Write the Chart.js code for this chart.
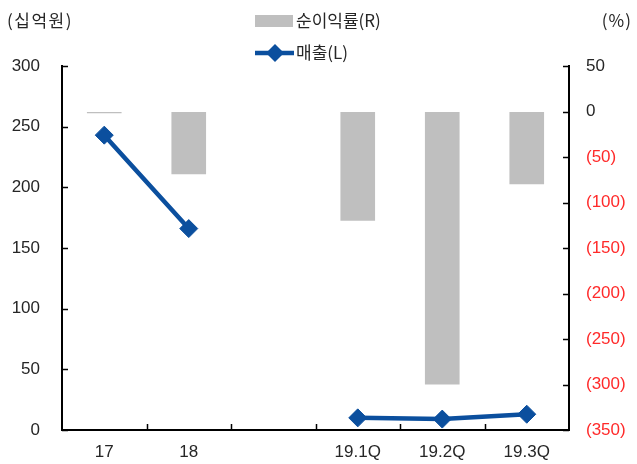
<!DOCTYPE html>
<html>
<head>
<meta charset="utf-8">
<script src="https://cdn.jsdelivr.net/npm/chart.js@4/dist/chart.umd.min.js"></script>
<style>
  html, body { margin: 0; padding: 0; background: #ffffff; }
  #wrap { width: 637px; height: 464px; }
</style>
</head>
<body>
<div id="wrap"><canvas id="c" width="637" height="464"></canvas></div>
<script>
// Periods on the x axis (blank slot separates annual and quarterly figures)
const categories = ['17', '18', '', '19.1Q', '19.2Q', '19.3Q'];
// 매출 (십억원), left axis
const sales = [243, 166, null, 10, 9, 13];
// 순이익률 (%), right axis
const netMargin = [-2, -69, null, -120, -300, -80];
// Axis tick settings
const leftTicks = { min: 0, max: 300, step: 50 };
const rightTicks = { min: -350, max: 50, step: 50 };

const BLUE = '#0b4f9e';
const GREY = '#bfbfbf';
const TEXT = '#262626';
const RED = '#ff2a2a';
const NUM_FONT = { family: "'Liberation Sans', Arial, sans-serif", size: 17 };
const KR_FONT = "'Noto Sans CJK KR', 'Liberation Sans', sans-serif";

// Short tick marks drawn on the inner side of each axis
const innerTicks = {
  id: 'innerTicks',
  afterDatasetsDraw(chart) {
    const { ctx, chartArea, scales } = chart;
    ctx.save();
    ctx.strokeStyle = '#000';
    ctx.lineWidth = 1.5;
    ctx.beginPath();
    scales.y.ticks.forEach(t => {
      const py = Math.round(scales.y.getPixelForValue(t.value)) + 0.5;
      ctx.moveTo(chartArea.left, py);
      ctx.lineTo(chartArea.left + 6, py);
    });
    scales.y1.ticks.forEach(t => {
      const py = Math.round(scales.y1.getPixelForValue(t.value)) + 0.5;
      ctx.moveTo(chartArea.right, py);
      ctx.lineTo(chartArea.right - 6, py);
    });
    const x = scales.x;
    for (let i = 1; i < categories.length; i++) {
      const px = Math.round((x.getPixelForTick(i - 1) + x.getPixelForTick(i)) / 2) + 0.5;
      ctx.moveTo(px, chartArea.bottom);
      ctx.lineTo(px, chartArea.bottom - 6);
    }
    ctx.stroke();
    ctx.restore();
  }
};

// Unit captions and the two-row legend above the plot
const header = {
  id: 'header',
  afterDraw(chart) {
    const { ctx } = chart;
    ctx.save();
    ctx.fillStyle = TEXT;
    ctx.textBaseline = 'middle';
    ctx.font = `17px ${KR_FONT}`;
    ctx.letterSpacing = '1.5px';
    ctx.textAlign = 'left';
    ctx.fillText('(십억원)', 7, 21);
    ctx.letterSpacing = '1px';
    ctx.textAlign = 'right';
    ctx.fillText('(%)', 632, 21);
    ctx.letterSpacing = '0px';

    // legend row 1: bar series
    ctx.fillStyle = GREY;
    ctx.fillRect(255, 15, 38, 12);
    ctx.fillStyle = TEXT;
    ctx.textAlign = 'left';
    ctx.font = `17px ${KR_FONT}`;
    ctx.fillText('순이익률(R)', 296, 21);

    // legend row 2: line series
    ctx.strokeStyle = BLUE;
    ctx.lineWidth = 4.5;
    ctx.beginPath();
    ctx.moveTo(255, 53);
    ctx.lineTo(294, 53);
    ctx.stroke();
    ctx.fillStyle = BLUE;
    ctx.beginPath();
    ctx.moveTo(275, 44);
    ctx.lineTo(284, 53);
    ctx.lineTo(275, 62);
    ctx.lineTo(266, 53);
    ctx.closePath();
    ctx.fill();
    ctx.fillStyle = TEXT;
    ctx.fillText('매출(L)', 296, 53);
    ctx.restore();
  }
};

new Chart(document.getElementById('c'), {
  data: {
    labels: categories,
    datasets: [
      {
        type: 'line',
        label: '매출(L)',
        data: sales,
        yAxisID: 'y',
        borderColor: BLUE,
        backgroundColor: BLUE,
        borderWidth: 4.5,
        pointStyle: 'rectRot',
        pointRadius: 9,
        pointBorderWidth: 1,
        pointBorderColor: BLUE,
        pointBackgroundColor: BLUE,
        spanGaps: false,
        tension: 0,
        order: 0
      },
      {
        type: 'bar',
        label: '순이익률(R)',
        data: netMargin,
        yAxisID: 'y1',
        backgroundColor: GREY,
        borderWidth: 0,
        categoryPercentage: 1,
        barPercentage: 0.41,
        order: 1
      }
    ]
  },
  options: {
    responsive: false,
    animation: false,
    devicePixelRatio: 1,
    layout: { padding: { top: 66, left: 0, right: 0, bottom: 0 } },
    plugins: { legend: { display: false }, tooltip: { enabled: false } },
    scales: {
      x: {
        offset: true,
        grid: { display: true, drawOnChartArea: false, drawTicks: false },
        border: { display: true, color: '#000', width: 2 },
        ticks: { color: TEXT, font: NUM_FONT, padding: 12, maxRotation: 0, autoSkip: false },
        afterFit(s) { s.height = 34; }
      },
      y: {
        position: 'left',
        min: leftTicks.min,
        max: leftTicks.max,
        grid: { display: true, drawOnChartArea: false, drawTicks: false },
        border: { display: true, color: '#000', width: 2 },
        ticks: { stepSize: leftTicks.step, color: TEXT, font: NUM_FONT, padding: 22 },
        afterFit(s) { s.width = 62; }
      },
      y1: {
        position: 'right',
        min: rightTicks.min,
        max: rightTicks.max,
        grid: { display: true, drawOnChartArea: false, drawTicks: false },
        border: { display: true, color: '#000', width: 2 },
        ticks: {
          stepSize: rightTicks.step,
          font: NUM_FONT,
          padding: 17,
          color: ctx => (ctx.tick && ctx.tick.value < 0 ? RED : TEXT),
          callback: v => (v < 0 ? '(' + (-v) + ')' : String(v))
        },
        afterFit(s) { s.width = 68; }
      }
    }
  },
  plugins: [innerTicks, header]
});
</script>
</body>
</html>
